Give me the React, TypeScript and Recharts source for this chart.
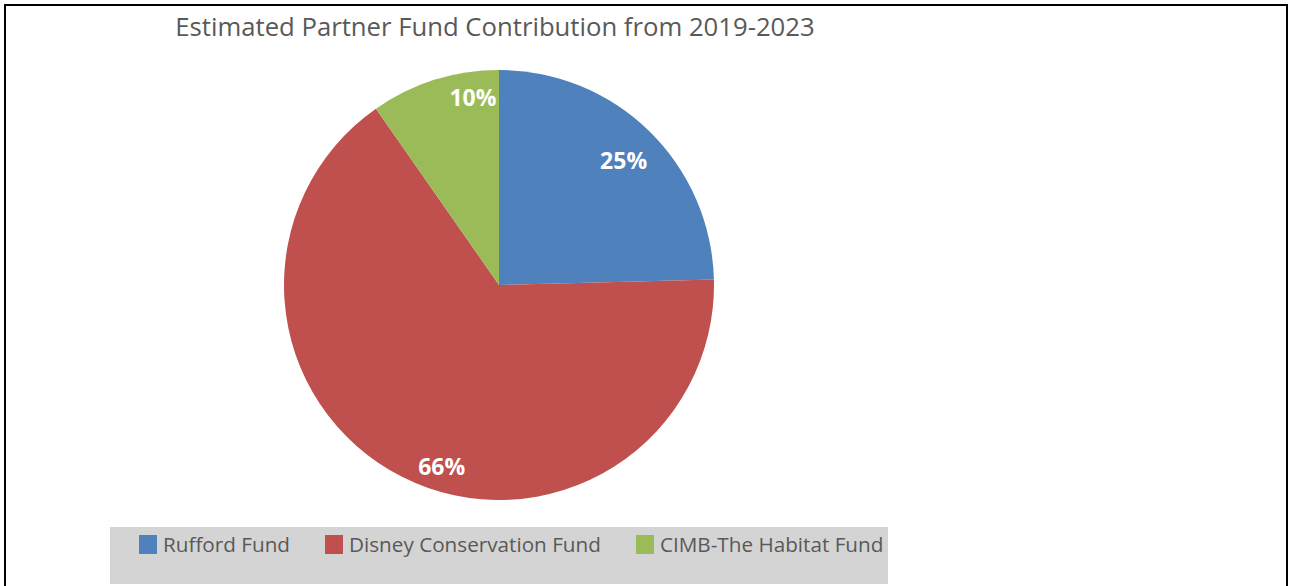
import React from 'react';
import { PieChart, Pie, Cell, Legend } from 'recharts';

const categories = ['Rufford Fund', 'Disney Conservation Fund', 'CIMB-The Habitat Fund'];
const shares = [24.6, 65.7, 9.7];
const colors = ['#4F81BD', '#C0504D', '#9BBB59'];
const title = 'Estimated Partner Fund Contribution from 2019-2023';

const data = categories.map((name, i) => ({ name, value: shares[i] }));

// label placement nudges (Excel "best fit" style)
const labelNudge = [
  { da: -0.7, rf: 0.82 },
  { da: 9.3, rf: 0.885 },
  { da: -9.6, rf: 0.885 },
];

const RAD = Math.PI / 180;

const renderLabel = (props: any) => {
  const { cx, cy, midAngle, outerRadius, percent, index } = props;
  const n = labelNudge[index] || { da: 0, rf: 0.8 };
  const a = (midAngle + n.da) * RAD;
  const r = outerRadius * n.rf;
  const x = cx + r * Math.cos(a);
  const y = cy - r * Math.sin(a);
  return (
    <text
      x={x}
      y={y}
      fill="#ffffff"
      textAnchor="middle"
      dominantBaseline="central"
      fontFamily="'Open Sans', sans-serif"
      fontWeight={700}
      fontSize={23}
    >
      {`${Math.round(percent * 100)}%`}
    </text>
  );
};

const LegendContent = () => {
  return (
    <div
      style={{
        width: 778,
        height: 57,
        background: '#d4d4d4',
        display: 'flex',
        alignItems: 'flex-start',
        paddingLeft: 29,
        paddingTop: 4,
        boxSizing: 'border-box',
        fontFamily: "'Open Sans', sans-serif",
        fontSize: 20.7,
        color: '#595959',
      }}
    >
      {categories.map((name, i) => (
        <div key={name} style={{ display: 'flex', alignItems: 'center', marginRight: 35, height: 26 }}>
          <span style={{ display: 'inline-block', width: 18, height: 19, background: colors[i], marginRight: 6 }} />
          <span style={{ whiteSpace: 'nowrap' }}>{name}</span>
        </div>
      ))}
    </div>
  );
};

export default function App() {
  return (
    <div style={{ position: 'absolute', left: 0, top: 0, width: 1290, height: 586, background: '#fff', overflow: 'hidden' }}>
      <div
        style={{
          position: 'absolute',
          left: 4,
          top: 4,
          width: 1280,
          height: 620,
          border: '2px solid #000',
        }}
      />
      <div
        style={{
          position: 'absolute',
          left: 0,
          top: 10,
          width: 990,
          textAlign: 'center',
          fontFamily: "'Open Sans', sans-serif",
          fontSize: 25.7,
          color: '#595959',
          lineHeight: '34px',
        }}
      >
        {title}
      </div>
      <div style={{ position: 'absolute', left: 0, top: 0 }}>
        <PieChart width={1290} height={586} margin={{ top: 0, right: 0, bottom: 0, left: 0 }}>
          <Pie
            data={data}
            dataKey="value"
            nameKey="name"
            cx={499}
            cy={285}
            outerRadius={215}
            startAngle={90}
            endAngle={-270}
            stroke="none"
            label={renderLabel}
            labelLine={false}
            isAnimationActive={false}
          >
            {data.map((d, i) => (
              <Cell key={d.name} fill={colors[i]} />
            ))}
          </Pie>
          <Legend
            content={<LegendContent />}
            wrapperStyle={{ position: 'absolute', left: 110, top: 527, width: 778, height: 57 }}
          />
        </PieChart>
      </div>
    </div>
  );
}
